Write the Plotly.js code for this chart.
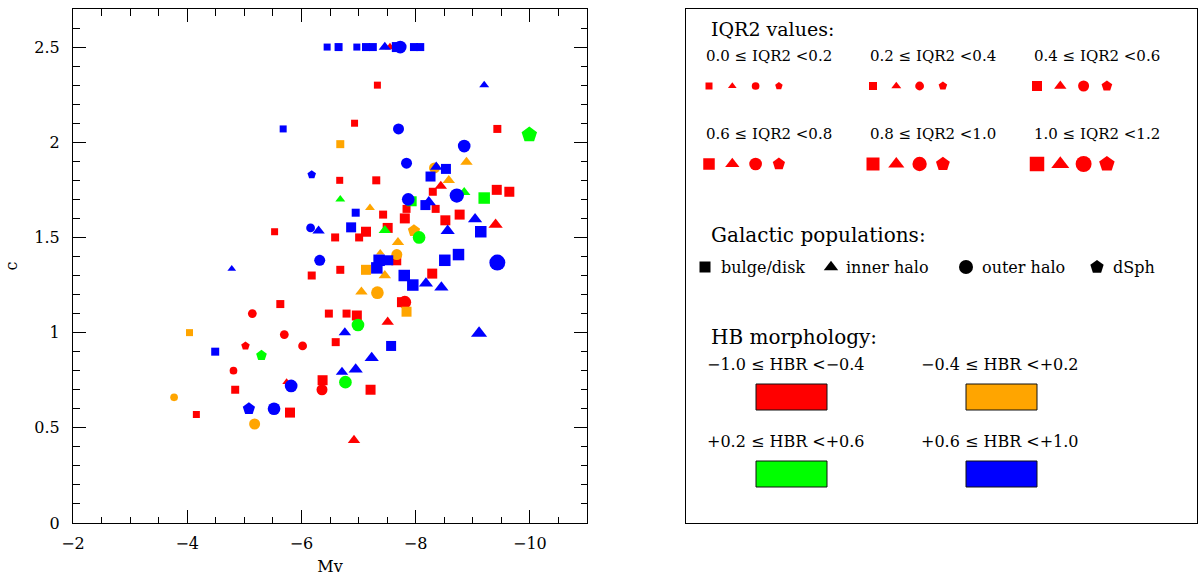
<!DOCTYPE html>
<html><head><meta charset="utf-8">
<script src="https://cdn.plot.ly/plotly-3.0.1.min.js"></script>
<style>html,body{margin:0;padding:0;background:#fff}#plot{width:1200px;height:576px}</style>
</head><body><div id="plot"></div>
<script>
// ---- Data: one set of arrays per HBR class (pop: 0 bulge/disk, 1 inner halo, 2 outer halo, 3 dSph; iqr: IQR2 class 0..5)
const mvRed  = [-5.63,-5.14,-6.48,-5.70,-6.02,-6.60,-5.02,-4.81,-5.74,-6.37,-6.36,-4.84,-4.16,-5.80,-6.92,-7.55,-7.33,-6.93,-6.67,-7.31,-7.43,-5.53,-6.59,-7.13,-7.01,-7.51,-7.66,-6.68,-6.18,-8.44,-8.30,-8.35,-7.84,-7.81,-8.52,-8.77,-8.29,-7.81,-7.76,-6.79,-6.97,-7.51,-7.21,-9.43,-9.42,-9.64,-9.40];
const cRed   = [1.15,1.10,1.10,0.99,0.93,0.95,0.93,0.80,0.74,0.75,0.70,0.70,0.57,0.58,0.435,2.50,2.30,2.10,1.80,1.80,1.62,1.53,1.50,1.53,1.50,1.55,1.38,1.33,1.30,1.77,1.74,1.65,1.65,1.60,1.59,1.62,1.31,1.16,1.16,1.10,1.09,1.056,0.70,2.07,1.75,1.74,1.567];
const popRed = [0,2,0,2,2,0,3,2,1,0,2,0,0,0,1,1,0,0,0,0,0,0,0,0,0,0,0,0,0,1,0,0,0,0,0,0,0,2,0,0,0,1,0,0,0,0,1];
const iqrRed = [1,1,1,1,1,1,1,0,0,2,2,1,0,2,2,1,0,0,0,1,1,0,1,2,1,2,2,1,1,2,1,1,1,2,2,2,2,3,2,1,2,2,2,1,2,2,3];

const mvOrange  = [-4.04,-3.77,-5.18,-6.68,-7.20,-7.69,-7.38,-7.67,-7.13,-7.46,-8.89,-8.33,-8.58,-7.97,-7.05,-7.33,-7.84];
const cOrange   = [1.00,0.66,0.52,1.99,1.655,1.474,1.42,1.41,1.33,1.30,1.896,1.865,1.80,1.535,1.214,1.21,1.11];
const popOrange = [0,2,2,0,1,1,1,2,0,1,1,2,1,3,1,2,0];
const iqrOrange = [0,0,2,1,1,2,0,2,2,2,2,2,2,3,2,3,2];

const mvGreen  = [-5.30,-6.68,-7.46,-8.85,-7.93,-9.20,-8.06,-6.99,-6.77,-9.99];
const cGreen   = [0.88,1.70,1.537,1.737,1.69,1.707,1.50,1.04,0.74,2.04];
const popGreen = [3,1,1,1,0,0,2,2,2,3];
const iqrGreen = [2,1,2,2,2,3,3,3,3,5];

const mvBlue  = [-4.49,-5.82,-5.08,-5.52,-6.45,-6.65,-6.97,-7.13,-7.19,-7.25,-7.46,-7.67,-7.73,-7.97,-8.08,-7.70,-5.68,-6.18,-6.95,-6.16,-6.30,-6.87,-7.36,-7.52,-7.32,-6.32,-4.78,-8.85,-7.84,-8.36,-8.53,-8.26,-8.72,-7.87,-8.23,-8.17,-9.04,-9.14,-8.56,-8.51,-8.75,-7.80,-7.95,-8.18,-8.45,-6.76,-7.57,-7.23,-6.71,-6.95,-9.20,-9.43,-9.11];
const cBlue   = [0.90,0.72,0.60,0.60,2.50,2.50,2.50,2.50,2.50,2.50,2.50,2.50,2.50,2.50,2.50,2.07,2.07,1.83,1.63,1.55,1.535,1.553,1.38,1.38,1.34,1.38,1.335,1.98,1.89,1.87,1.86,1.82,1.72,1.70,1.685,1.67,1.596,1.53,1.535,1.38,1.41,1.30,1.25,1.258,1.237,1.00,0.93,0.867,0.793,0.807,2.30,1.368,0.997];
const popBlue = [0,2,3,2,0,0,0,0,1,0,1,0,2,0,0,2,0,3,0,2,1,0,0,0,0,2,1,2,2,1,0,0,2,2,1,0,1,0,1,0,0,0,0,1,1,1,0,1,1,1,1,2,1];
const iqrBlue = [1,3,3,3,0,1,0,1,0,1,2,2,3,1,1,2,0,1,1,1,2,2,3,2,3,2,0,3,2,2,2,2,4,3,3,2,3,3,3,3,3,3,3,3,3,2,2,3,2,3,1,5,4];

// ---- Tick labels and legend texts
const xTickVals = [-2,-4,-6,-8,-10];
const xTickText = ['\u22122','\u22124','\u22126','\u22128','\u221210'];
const yTickVals = [0,0.5,1,1.5,2,2.5];
const yTickText = ['0','0.5','1','1.5','2','2.5'];
const iqrLabels = ['0.0 \u2264 IQR2 <0.2','0.2 \u2264 IQR2 <0.4','0.4 \u2264 IQR2 <0.6','0.6 \u2264 IQR2 <0.8','0.8 \u2264 IQR2 <1.0','1.0 \u2264 IQR2 <1.2'];
const popLabels = ['bulge/disk','inner halo','outer halo','dSph'];
const hbrLabels = ['\u22121.0 \u2264 HBR <\u22120.4','\u22120.4 \u2264 HBR <+0.2','+0.2 \u2264 HBR <+0.6','+0.6 \u2264 HBR <+1.0'];
const hbrColors = ['#ff0000','#ffa500','#00ff00','#0000ff'];

// ---- Styling helpers
const symbols = ['square','triangle-up','circle','pentagon'];
const baseSize = [7,8,10,11.5,13,14.5];
const shapeScale = [1.0,1.08,1.1,1.12];
const sz = (p,q) => baseSize[q]*shapeScale[p];

const groups = [
  [mvRed,cRed,popRed,iqrRed],
  [mvOrange,cOrange,popOrange,iqrOrange],
  [mvGreen,cGreen,popGreen,iqrGreen],
  [mvBlue,cBlue,popBlue,iqrBlue]
];
const traces = groups.map((g,k)=>({
  type:'scatter', mode:'markers', x:g[0], y:g[1], xaxis:'x', yaxis:'y',
  marker:{color:hbrColors[k], opacity:1, symbol:g[2].map(p=>symbols[p]), size:g[2].map((p,i)=>sz(p,g[3][i])), line:{width:0}},
  hoverinfo:'skip'
}));

// ---- Legend panel (pixel-like coordinates on auxiliary axes)
const F = 'DejaVu Serif';
const ann = [];
const shapes = [];
const lgX = [], lgY = [], lgS = [], lgZ = [];
const colX = [709, 873, 1037], rowLabY = [56, 134], rowSymY = [86, 164], step = 23.3;
ann.push({text:'IQR2 values:', x:709, y:29, size:19});
iqrLabels.forEach((t,b)=>{
  const col=b%3,row=Math.floor(b/3);
  ann.push({text:t, x:colX[col]-5, y:rowLabY[row], size:15});
  for(let p=0;p<4;p++){ lgX.push(colX[col]+p*step); lgY.push(rowSymY[row]); lgS.push(symbols[p]); lgZ.push(sz(p,b)); }
});
ann.push({text:'Galactic populations:', x:709, y:235, size:20});
const popSymX=[705,831,966,1097], popTxtX=[719,844,980,1111], popSize=[11,12.5,14,14];
const pX=[],pY=[],pS=[],pZ=[];
popLabels.forEach((t,p)=>{ ann.push({text:t, x:popTxtX[p], y:267, size:16}); pX.push(popSymX[p]); pY.push(267); pS.push(symbols[p]); pZ.push(popSize[p]); });
ann.push({text:'HB morphology:', x:709, y:337, size:20});
const hbX=[705,919], hbLabY=[364,441], boxX=[[756,827],[966,1037]], boxY=[[384,410],[461,487]];
hbrLabels.forEach((t,k)=>{
  const col=k%2,row=Math.floor(k/2);
  ann.push({text:t, x:hbX[col], y:hbLabY[row], size:16});
  shapes.push({type:'rect', xref:'x2', yref:'y2', x0:boxX[col][0], x1:boxX[col][1], y0:boxY[row][0], y1:boxY[row][1], fillcolor:hbrColors[k], line:{color:'#111', width:1}, layer:'above'});
});
traces.push({type:'scatter', mode:'markers', x:lgX, y:lgY, xaxis:'x2', yaxis:'y2', marker:{color:'#ff0000', opacity:1, symbol:lgS, size:lgZ, line:{width:0}}, hoverinfo:'skip'});
traces.push({type:'scatter', mode:'markers', x:pX, y:pY, xaxis:'x2', yaxis:'y2', marker:{color:'#000', opacity:1, symbol:pS, size:pZ, line:{width:0}}, hoverinfo:'skip'});

const annotations = ann.map(a=>({text:a.text, x:a.x, y:a.y, xref:'x2', yref:'y2', xanchor:'left', yanchor:'middle', showarrow:false, font:{family:F, size:a.size, color:'#000'}}));

const W = 1124;
const layout = {
  width:1200, height:576,
  margin:{l:73, r:3, t:9, b:53, pad:0},
  paper_bgcolor:'#fff', plot_bgcolor:'#fff',
  showlegend:false, hovermode:false,
  font:{family:F, size:16, color:'#000'},
  xaxis:{domain:[0,514/W], anchor:'y', range:[-2,-11], tickmode:'array', tickvals:xTickVals, ticktext:xTickText,
    ticks:'inside', ticklen:13, tickwidth:1, tickcolor:'#000', showline:true, linecolor:'#000', linewidth:1, mirror:'ticks',
    showgrid:false, zeroline:false, tickfont:{family:F, size:16}, ticklabelstandoff:6,
    minor:{dtick:0.5, tick0:0, ticks:'inside', ticklen:6.5, tickwidth:1, tickcolor:'#000', showgrid:false},
    title:{text:'Mv', font:{family:F, size:16}, standoff:8}, automargin:false},
  yaxis:{domain:[0,1], anchor:'x', range:[0,2.7], tickmode:'array', tickvals:yTickVals, ticktext:yTickText,
    ticks:'inside', ticklen:13, tickwidth:1, tickcolor:'#000', showline:true, linecolor:'#000', linewidth:1, mirror:'ticks',
    showgrid:false, zeroline:false, tickfont:{family:F, size:16}, ticklabelstandoff:9,
    minor:{dtick:0.1, tick0:0, ticks:'inside', ticklen:6.5, tickwidth:1, tickcolor:'#000', showgrid:false},
    title:{text:'c', font:{family:F, size:16}, standoff:12}, automargin:false},
  xaxis2:{domain:[(686-73)/W,1], anchor:'y2', range:[686,1197], showline:true, mirror:true, linecolor:'#000', linewidth:1,
    ticks:'', showticklabels:false, showgrid:false, zeroline:false},
  yaxis2:{domain:[0,1], anchor:'x2', range:[523,9], showline:true, mirror:true, linecolor:'#000', linewidth:1,
    ticks:'', showticklabels:false, showgrid:false, zeroline:false},
  annotations:annotations,
  shapes:shapes
};
Plotly.newPlot('plot', traces, layout, {staticPlot:true, displayModeBar:false});
</script></body></html>
